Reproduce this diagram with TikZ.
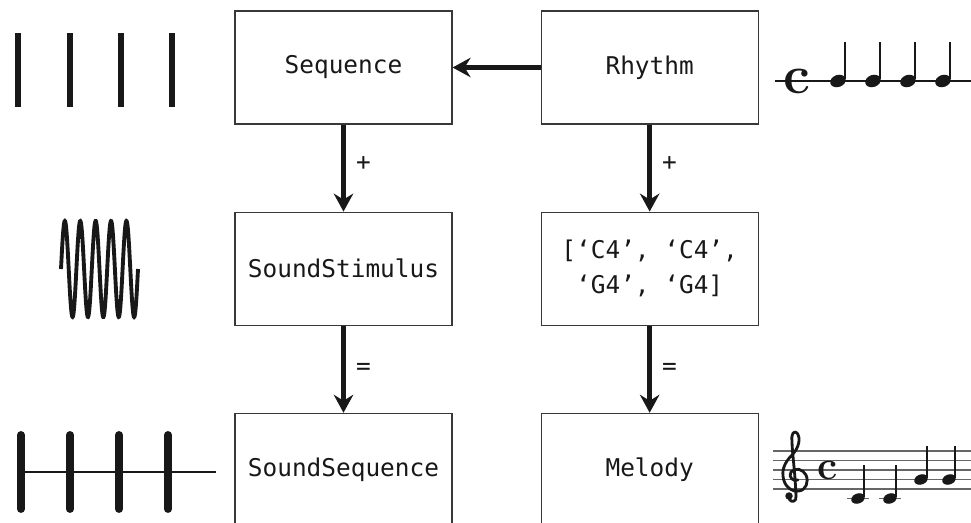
\documentclass[tikz,border=0pt]{standalone}
\usepackage{fontspec}
\setmonofont{DejaVu Sans Mono}
\usetikzlibrary{arrows.meta,positioning}
\definecolor{inkCS}{RGB}{24,24,24}
\colorlet{BoxLine}{black!78}
\colorlet{StaffGray}{black!60}

\begin{document}
\begin{tikzpicture}[
    x=0.02cm,y=-0.02cm,
    node distance=1.74cm and 1.76cm,
    objbox/.style={draw=BoxLine,line width=0.7pt,minimum width=4.34cm,minimum height=2.26cm,align=center,text=inkCS,font=\ttfamily\fontsize{13.9}{19.9}\selectfont},
    arr/.style={-{Stealth[length=3.6mm,width=3.9mm,inset=1.2mm]},line width=2.5pt,inkCS},
    oplabel/.style={text=inkCS,font=\ttfamily\fontsize{13.9}{16}\selectfont,right,xshift=0.09cm},
    timesig/.style={text=inkCS,inner sep=0pt,font=\fontsize{#1}{#1}\selectfont\bfseries},
    stem/.style={line width=0.6pt,inkCS},
    clefpen/.style={inkCS,line width=1.6pt,line cap=round,line join=round}
  ]
    \useasboundingbox (0,0) rectangle (971,523);
    \clip (0,0) rectangle (971,523);

    \node[objbox] (seq) at (343.5,67.5) {Sequence};
    \node[objbox,right=of seq] (rhy) {Rhythm};
    \node[objbox,below=of seq] (stim) {SoundStimulus};
    \node[objbox,below=of rhy] (pitch) {[‘C4’, ‘C4’,\\‘G4’, ‘G4]};
    \node[objbox,below=of stim] (sndseq) {SoundSequence};
    \node[objbox,below=of pitch] (mel) {Melody};

    \draw[arr] (rhy) -- (seq);
    \draw[arr] (seq) -- node[oplabel,pos=0.45] {+} (stim);
    \draw[arr] (rhy) -- node[oplabel,pos=0.45] {+} (pitch);
    \draw[arr] (stim) -- node[oplabel] {=} (sndseq);
    \draw[arr] (pitch) -- node[oplabel] {=} (mel);

    % onsets
    \foreach \x in {18,70,121,172}
      \fill[inkCS] (\x-3,33) rectangle (\x+3,107);

    % tone
    \draw[inkCS,line width=2.2pt] plot[domain=61:138,samples=300,smooth]
      (\x,{269-48*sin((\x-61)*23.377)});

    % onsets filled with tones
    \draw[inkCS,line width=1.2pt] (21,472) -- (216,472);
    \foreach \x in {21,70,119,168}
      \draw[inkCS,line width=4.5pt,line cap=round] (\x,435) -- (\x,509);

    % rhythm on a single line
    \draw[inkCS,line width=0.6pt] (775,81) -- (971,81);
    \node[timesig=30.7] (ct) at (797,81) {c};
    \foreach \x in {838,873,908,943} {
      \fill[inkCS,rotate around={20:(\x,81)}] (\x,81) ellipse [x radius=0.16cm,y radius=0.12cm];
      \draw[stem] (\x+7,79) -- (\x+7,42);
    }

    % melody on the staff
    \foreach \y in {451,460.5,470,479.5,489}
      \draw[StaffGray,line width=0.6pt] (773,\y) -- (971,\y);
    % G clef
    \draw[clefpen] (796,496) .. controls (795,470) and (792,452) .. (792,441)
      .. controls (791,434) and (794,430) .. (797,433)
      .. controls (801,438) and (799,448) .. (792,455)
      .. controls (786,461) and (782,468) .. (783,476)
      .. controls (784,487) and (792,492) .. (799,491)
      .. controls (806,490) and (809,482) .. (806,475)
      .. controls (803,469) and (795,467) .. (791,472)
      .. controls (788,477) and (793,482) .. (798,480);
    \draw[clefpen] (796,496) .. controls (797,502) and (791,503) .. (789,499);
    \fill[inkCS] (789,496) circle [radius=0.075cm];
    \node[timesig=23] (ct2) at (828,470) {c};
    \foreach \x in {858,890} {
      \draw[StaffGray,line width=0.6pt] (\x-11,498.5) -- (\x+11,498.5);
      \fill[inkCS,rotate around={20:(\x,498.5)}] (\x,498.5) ellipse [x radius=0.14cm,y radius=0.1cm];
      \draw[stem] (\x+6,497) -- (\x+6,465);
    }
    \foreach \x in {921,949} {
      \fill[inkCS,rotate around={20:(\x,479.5)}] (\x,479.5) ellipse [x radius=0.14cm,y radius=0.1cm];
      \draw[stem] (\x+6,478) -- (\x+6,446);
    }
  \end{tikzpicture}
\end{document}
